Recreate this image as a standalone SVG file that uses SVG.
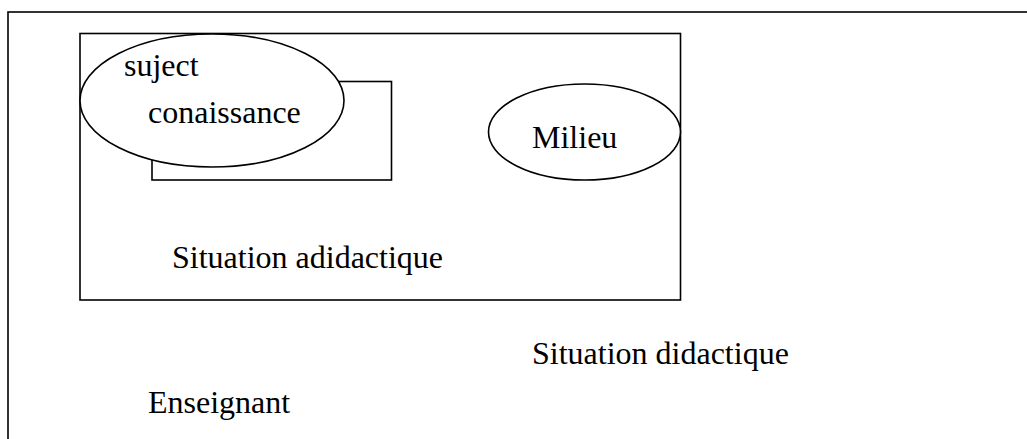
<svg xmlns="http://www.w3.org/2000/svg" width="1027" height="439" viewBox="0 0 1027 439">
<style>
.s{fill:none;stroke:#000;stroke-width:1.6}
.w{fill:#fff;stroke:#000;stroke-width:1.6}
text{font-family:"Liberation Serif","Times New Roman",serif;font-size:32px;fill:#000}
</style>
<rect width="1027" height="439" fill="#fff"/>
<g id="didactique">
<rect class="s" x="8" y="12" width="1040" height="450" stroke-width="2"/>
<text x="532" y="364">Situation didactique</text>
</g>
<g id="enseignant"><text x="148" y="413">Enseignant</text></g>
<g id="adidactique">
<rect class="s" x="80" y="33.5" width="600.5" height="266.5"/>
<text x="172" y="268">Situation adidactique</text>
</g>
<g id="connaissance-box"><rect class="s" x="152" y="81.5" width="239.5" height="98.5"/></g>
<g id="sujet">
<ellipse class="w" cx="212" cy="100.5" rx="132" ry="66.5"/>
<text x="124" y="76">suject</text>
<text x="148" y="123">conaissance</text>
</g>
<g id="milieu">
<ellipse class="w" cx="584.5" cy="132" rx="96" ry="48"/>
<text x="532" y="148">Milieu</text>
</g>
<g id="connectors"></g>
</svg>
